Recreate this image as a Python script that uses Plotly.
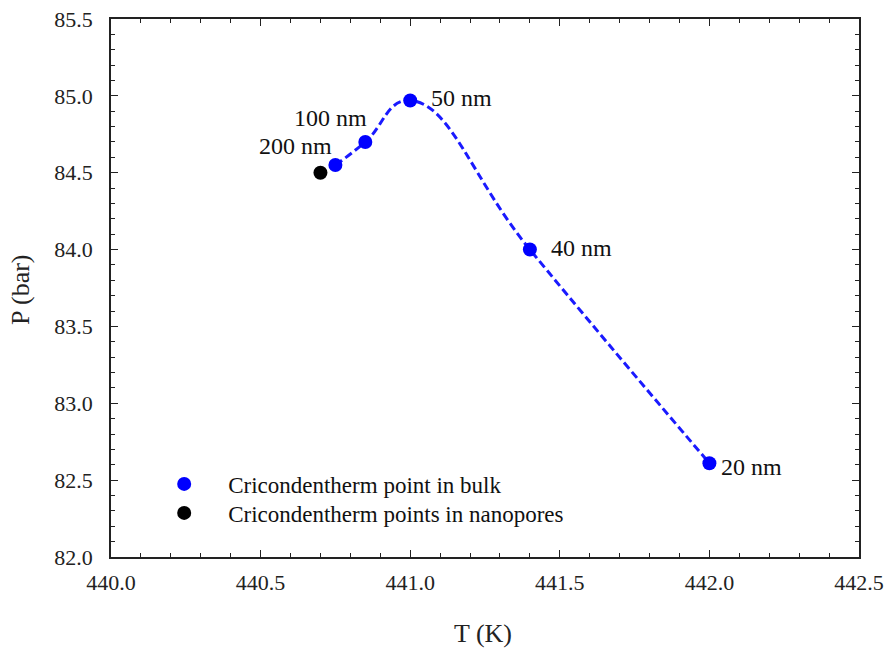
import plotly.graph_objects as go

# Data
bulk_T = [440.75, 440.85, 441.0, 441.4, 442.0]
bulk_P = [84.55, 84.70, 84.97, 84.00, 82.61]
nano_T = [440.70]
nano_P = [84.50]
labels = ["200 nm", "100 nm", "50 nm", "40 nm", "20 nm"]
label_T = [440.618, 440.732, 441.173, 441.574, 442.142]
label_P = [84.674, 84.856, 84.986, 84.01, 82.585]

FONT = "Liberation Serif"

fig = go.Figure()
fig.add_trace(go.Scatter(
    x=bulk_T, y=bulk_P, mode="lines",
    line=dict(color="#1a1aff", width=3, dash="8px,4px", shape="spline", smoothing=1.3),
    showlegend=False, hoverinfo="skip"))
fig.add_trace(go.Scatter(
    x=bulk_T, y=bulk_P, mode="markers",
    marker=dict(color="#0000ff", size=14),
    name="Cricondentherm point in bulk", legend="legend"))
fig.add_trace(go.Scatter(
    x=nano_T, y=nano_P, mode="markers",
    marker=dict(color="#000000", size=14),
    name="Cricondentherm points in nanopores", legend="legend2"))

for t, p, s in zip(label_T, label_P, labels):
    fig.add_annotation(x=t, y=p, text=s, showarrow=False,
                       font=dict(family=FONT, size=24, color="#111"))

# axis titles as paper annotations (fixed pixel offsets)
fig.add_annotation(x=0.497, y=0, xref="paper", yref="paper", yshift=-76,
                   text="T (K)", showarrow=False, xanchor="center", yanchor="middle",
                   font=dict(family=FONT, size=26, color="#222"))
fig.add_annotation(x=0, y=0.5, xref="paper", yref="paper", xshift=-91, yshift=-2,
                   text="P (bar)", showarrow=False, textangle=-90,
                   xanchor="center", yanchor="middle",
                   font=dict(family=FONT, size=26, color="#222"))

axis_common = dict(
    showline=True, linecolor="#222", linewidth=1.5, mirror="ticks",
    ticks="inside", ticklen=7, tickwidth=1.3, tickcolor="#222",
    showgrid=False, zeroline=False, automargin=False,
    tickfont=dict(family=FONT, size=22, color="#222"),
)

fig.update_xaxes(range=[440.0, 442.5], dtick=0.5, tickformat=".1f",
                 ticklabelstandoff=5,
                 minor=dict(dtick=0.1, ticks="inside", ticklen=4, tickcolor="#222", tickwidth=1.2),
                 **axis_common)
fig.update_yaxes(range=[82.0, 85.5], dtick=0.5, tickformat=".1f",
                 ticklabelstandoff=12,
                 minor=dict(dtick=0.1, ticks="inside", ticklen=4, tickcolor="#222", tickwidth=1.2),
                 **axis_common)

legend_common = dict(xanchor="left", yanchor="top", bgcolor="rgba(0,0,0,0)",
                     font=dict(family=FONT, size=23, color="#111"),
                     itemwidth=78)

fig.update_layout(
    width=891, height=648,
    margin=dict(l=111, r=32, t=19, b=91),
    plot_bgcolor="white", paper_bgcolor="white",
    legend=dict(x=0.039, y=0.1757, **legend_common),
    legend2=dict(x=0.039, y=0.1218, **legend_common),
)

fig.write_html("out.html")
